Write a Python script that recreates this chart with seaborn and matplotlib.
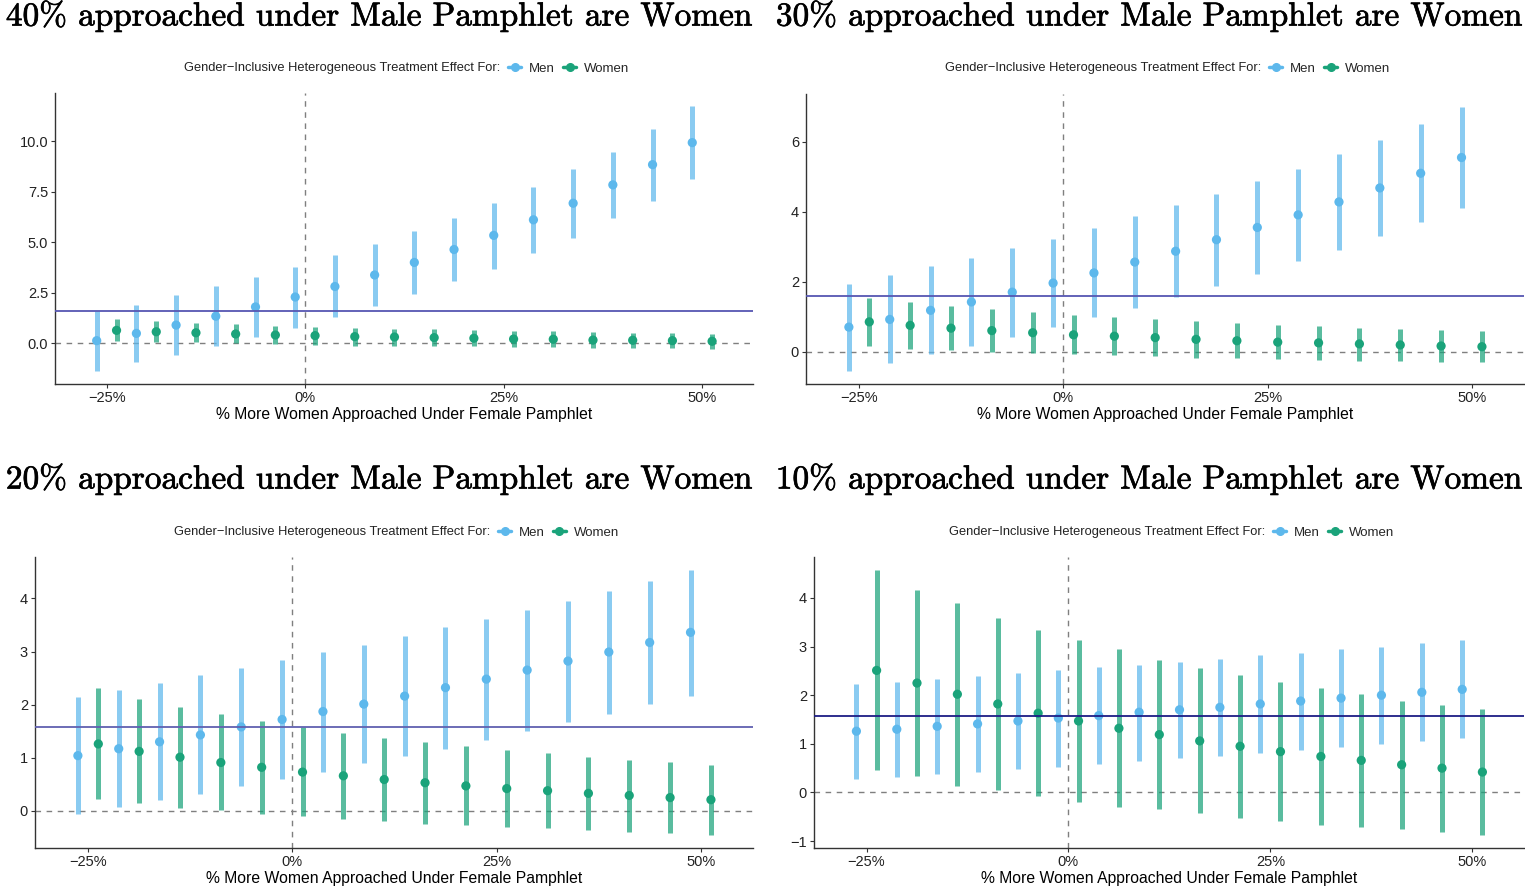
import matplotlib
matplotlib.use("Agg")
import matplotlib.pyplot as plt
import matplotlib.patheffects as pe
from matplotlib.lines import Line2D
import numpy as np
import pandas as pd
import seaborn as sns

sns.set_theme(style="white")
plt.rcParams["font.family"] = ["Liberation Sans", "DejaVu Sans"]
plt.rcParams["axes.unicode_minus"] = True

# Shift in the share of women approached under the female pamphlet (%)
shift = [-25, -20, -15, -10, -5, 0, 5, 10, 15, 20, 25, 30, 35, 40, 45, 50]

# 40% baseline
p40_men = [0.13, 0.49, 0.90, 1.34, 1.80, 2.29, 2.81, 3.38, 4.00, 4.64, 5.34, 6.11, 6.93, 7.84, 8.84, 9.93]
p40_men_lo = [-1.36, -0.93, -0.60, -0.15, 0.31, 0.78, 1.29, 1.86, 2.42, 3.07, 3.68, 4.46, 5.23, 6.19, 7.06, 8.12]
p40_men_hi = [1.60, 1.91, 2.39, 2.83, 3.30, 3.79, 4.36, 4.90, 5.56, 6.21, 6.96, 7.75, 8.63, 9.48, 10.59, 11.73]
p40_women = [0.64, 0.57, 0.52, 0.46, 0.41, 0.38, 0.33, 0.31, 0.28, 0.25, 0.21, 0.20, 0.16, 0.15, 0.13, 0.10]
p40_women_lo = [0.09, 0.06, 0.04, -0.01, -0.05, -0.07, -0.11, -0.11, -0.13, -0.15, -0.19, -0.19, -0.22, -0.22, -0.24, -0.26]
p40_women_hi = [1.19, 1.08, 1.00, 0.93, 0.87, 0.83, 0.77, 0.73, 0.69, 0.65, 0.61, 0.59, 0.54, 0.52, 0.50, 0.46]

# 30% baseline
p30_men = [0.70, 0.92, 1.18, 1.42, 1.70, 1.96, 2.25, 2.56, 2.87, 3.20, 3.55, 3.91, 4.28, 4.68, 5.10, 5.55]
p30_men_lo = [-0.55, -0.32, -0.08, 0.17, 0.42, 0.70, 0.98, 1.25, 1.57, 1.87, 2.22, 2.58, 2.91, 3.31, 3.70, 4.11]
p30_men_hi = [1.94, 2.18, 2.44, 2.67, 2.97, 3.23, 3.54, 3.87, 4.19, 4.51, 4.88, 5.23, 5.65, 6.05, 6.50, 6.99]
p30_women = [0.85, 0.75, 0.67, 0.60, 0.54, 0.48, 0.44, 0.40, 0.35, 0.31, 0.27, 0.25, 0.22, 0.19, 0.16, 0.14]
p30_women_lo = [0.15, 0.08, 0.05, 0.00, -0.05, -0.08, -0.11, -0.14, -0.17, -0.19, -0.22, -0.24, -0.26, -0.28, -0.30, -0.31]
p30_women_hi = [1.53, 1.42, 1.31, 1.21, 1.13, 1.04, 0.98, 0.92, 0.87, 0.81, 0.76, 0.73, 0.68, 0.65, 0.62, 0.59]

# 20% baseline
p20_men = [1.04, 1.17, 1.30, 1.43, 1.58, 1.72, 1.87, 2.01, 2.16, 2.32, 2.48, 2.65, 2.82, 2.99, 3.17, 3.36]
p20_men_lo = [-0.05, 0.07, 0.20, 0.32, 0.46, 0.60, 0.74, 0.90, 1.03, 1.17, 1.33, 1.50, 1.67, 1.83, 2.01, 2.17]
p20_men_hi = [2.15, 2.27, 2.41, 2.55, 2.69, 2.84, 2.99, 3.13, 3.29, 3.46, 3.62, 3.78, 3.96, 4.14, 4.32, 4.53]
p20_women = [1.26, 1.12, 1.01, 0.91, 0.82, 0.73, 0.66, 0.59, 0.53, 0.47, 0.42, 0.38, 0.33, 0.29, 0.25, 0.21]
p20_women_lo = [0.22, 0.14, 0.06, 0.02, -0.06, -0.10, -0.15, -0.20, -0.24, -0.27, -0.30, -0.33, -0.36, -0.39, -0.42, -0.45]
p20_women_hi = [2.31, 2.10, 1.96, 1.82, 1.70, 1.57, 1.47, 1.37, 1.29, 1.22, 1.15, 1.08, 1.01, 0.96, 0.92, 0.87]

# 10% baseline
p10_men = [1.26, 1.30, 1.36, 1.41, 1.47, 1.53, 1.58, 1.65, 1.70, 1.75, 1.82, 1.88, 1.94, 2.00, 2.06, 2.12]
p10_men_lo = [0.27, 0.32, 0.38, 0.43, 0.48, 0.53, 0.59, 0.65, 0.71, 0.76, 0.81, 0.87, 0.93, 1.00, 1.05, 1.11]
p10_men_hi = [2.24, 2.28, 2.34, 2.39, 2.45, 2.52, 2.59, 2.63, 2.68, 2.75, 2.82, 2.87, 2.94, 3.00, 3.07, 3.13]
p10_women = [2.51, 2.25, 2.02, 1.82, 1.63, 1.47, 1.32, 1.19, 1.06, 0.95, 0.84, 0.74, 0.66, 0.57, 0.50, 0.42]
p10_women_lo = [0.46, 0.33, 0.14, 0.05, -0.08, -0.20, -0.30, -0.35, -0.43, -0.52, -0.58, -0.66, -0.71, -0.75, -0.81, -0.87]
p10_women_hi = [4.57, 4.16, 3.90, 3.58, 3.34, 3.13, 2.94, 2.72, 2.55, 2.42, 2.27, 2.14, 2.03, 1.89, 1.80, 1.72]

# Pooled effect shown as a reference line
pooled_effect = 1.58

baselines = ["40%", "30%", "20%", "10%"]
panel_series = {
    "40%": (p40_men, p40_men_lo, p40_men_hi, p40_women, p40_women_lo, p40_women_hi),
    "30%": (p30_men, p30_men_lo, p30_men_hi, p30_women, p30_women_lo, p30_women_hi),
    "20%": (p20_men, p20_men_lo, p20_men_hi, p20_women, p20_women_lo, p20_women_hi),
    "10%": (p10_men, p10_men_lo, p10_men_hi, p10_women, p10_women_lo, p10_women_hi),
}

W, H = 1525, 886
fig = plt.figure(figsize=(W / 100, H / 100), dpi=100)

# Panel boxes in pixels: left, right, top, bottom
boxes = {
    "40%": (55, 753, 93, 384),
    "30%": (806, 1524, 94, 384),
    "20%": (35, 753, 557, 848),
    "10%": (814, 1524, 557, 848),
}
title_centers = {"40%": (379, 16), "30%": (1149, 16), "20%": (379, 479), "10%": (1149, 479)}
legend_y = {"40%": 68.5, "30%": 68.5, "20%": 532.5, "10%": 532.5}
ref_colors = {"40%": "#5656B2", "30%": "#5656B2", "20%": "#6060B0", "10%": "#1C1C85"}

men_color = "#5DB8EC"
women_color = "#1AA37A"
dodge = 1.25
spine_color = "#333333"

for key in baselines:
    men, men_lo, men_hi, wom, wom_lo, wom_hi = panel_series[key]
    l, r, t, b = boxes[key]
    ax = fig.add_axes([l / W, 1 - b / H, (r - l) / W, (b - t) / H])

    df = pd.DataFrame({
        "shift": shift * 2,
        "group": ["Men"] * len(shift) + ["Women"] * len(shift),
        "est": men + wom,
        "lo": men_lo + wom_lo,
        "hi": men_hi + wom_hi,
    })
    df["xpos"] = df["shift"] + np.where(df["group"] == "Men", -dodge, dodge)

    ax.axhline(0, color="#7f7f7f", lw=1.0, ls=(0, (4, 4)), zorder=1)
    ax.axvline(0, color="#7f7f7f", lw=1.0, ls=(0, (4, 4)), zorder=1)

    for grp, col in (("Men", men_color), ("Women", women_color)):
        sub = df[df["group"] == grp]
        ax.vlines(sub["xpos"], sub["lo"], sub["hi"], color=col, alpha=0.72,
                  lw=3.6, zorder=2)
    sns.scatterplot(data=df, x="xpos", y="est", hue="group",
                    palette={"Men": men_color, "Women": women_color},
                    s=44, edgecolor="none", legend=False, ax=ax, zorder=3)

    ax.axhline(pooled_effect, color=ref_colors[key], lw=1.3, zorder=4)

    lo_all = min(df["lo"].min(), 0)
    hi_all = df["hi"].max()
    pad = 0.05 * (hi_all - lo_all)
    ax.set_ylim(lo_all - pad, hi_all + pad)
    ax.set_xlim(-31.5, 56.4)
    ax.set_xticks([-25, 0, 25, 50])
    ax.set_xticklabels(["\u221225%", "0%", "25%", "50%"])
    if key == "40%":
        ax.set_yticks([0, 2.5, 5.0, 7.5, 10.0])
        ax.set_yticklabels(["0.0", "2.5", "5.0", "7.5", "10.0"])
    elif key == "30%":
        ax.set_yticks([0, 2, 4, 6])
    elif key == "20%":
        ax.set_yticks([0, 1, 2, 3, 4])
    else:
        ax.set_yticks([-1, 0, 1, 2, 3, 4])
        ax.set_yticklabels(["\u22121", "0", "1", "2", "3", "4"])

    ax.set_xlabel("% More Women Approached Under Female Pamphlet", fontsize=11.3,
                  color="black", labelpad=1.5)
    ax.set_ylabel("")
    for side in ("top", "right"):
        ax.spines[side].set_visible(False)
    for side in ("left", "bottom"):
        ax.spines[side].set_color(spine_color)
        ax.spines[side].set_linewidth(1.0)
    ax.tick_params(axis="both", which="major", length=3, width=0.8,
                   color=spine_color, labelsize=10.5, labelcolor="#222222", pad=2,
                   direction="out", bottom=True, left=True)
    ax.grid(False)

    tx, ty = title_centers[key]
    fig.text(tx / W, 1 - ty / H, f"{key} approached under Male Pamphlet are Women",
             family="cmr10", fontsize=24, ha="center", va="center", color="black",
             path_effects=[pe.withStroke(linewidth=0.5, foreground="black")])

    cx = (l + r) / 2
    ly = 1 - legend_y[key] / H
    fig.text((cx + 96) / W, ly, "Gender\u2212Inclusive Heterogeneous Treatment Effect For:",
             fontsize=9.3, ha="right", va="center", color="#222222")
    handles = [
        Line2D([0], [0], color=men_color, lw=2.5, marker="o", markersize=5.5),
        Line2D([0], [0], color=women_color, lw=2.5, marker="o", markersize=5.5),
    ]
    fig.legend(handles, ["Men", "Women"], loc="center left",
               bbox_to_anchor=((cx + 104) / W, ly), ncol=2, frameon=False,
               fontsize=9.5, handlelength=1.0, handletextpad=0.6,
               columnspacing=0.6, borderpad=0, borderaxespad=0)

fig.savefig("out.png", dpi=100)
